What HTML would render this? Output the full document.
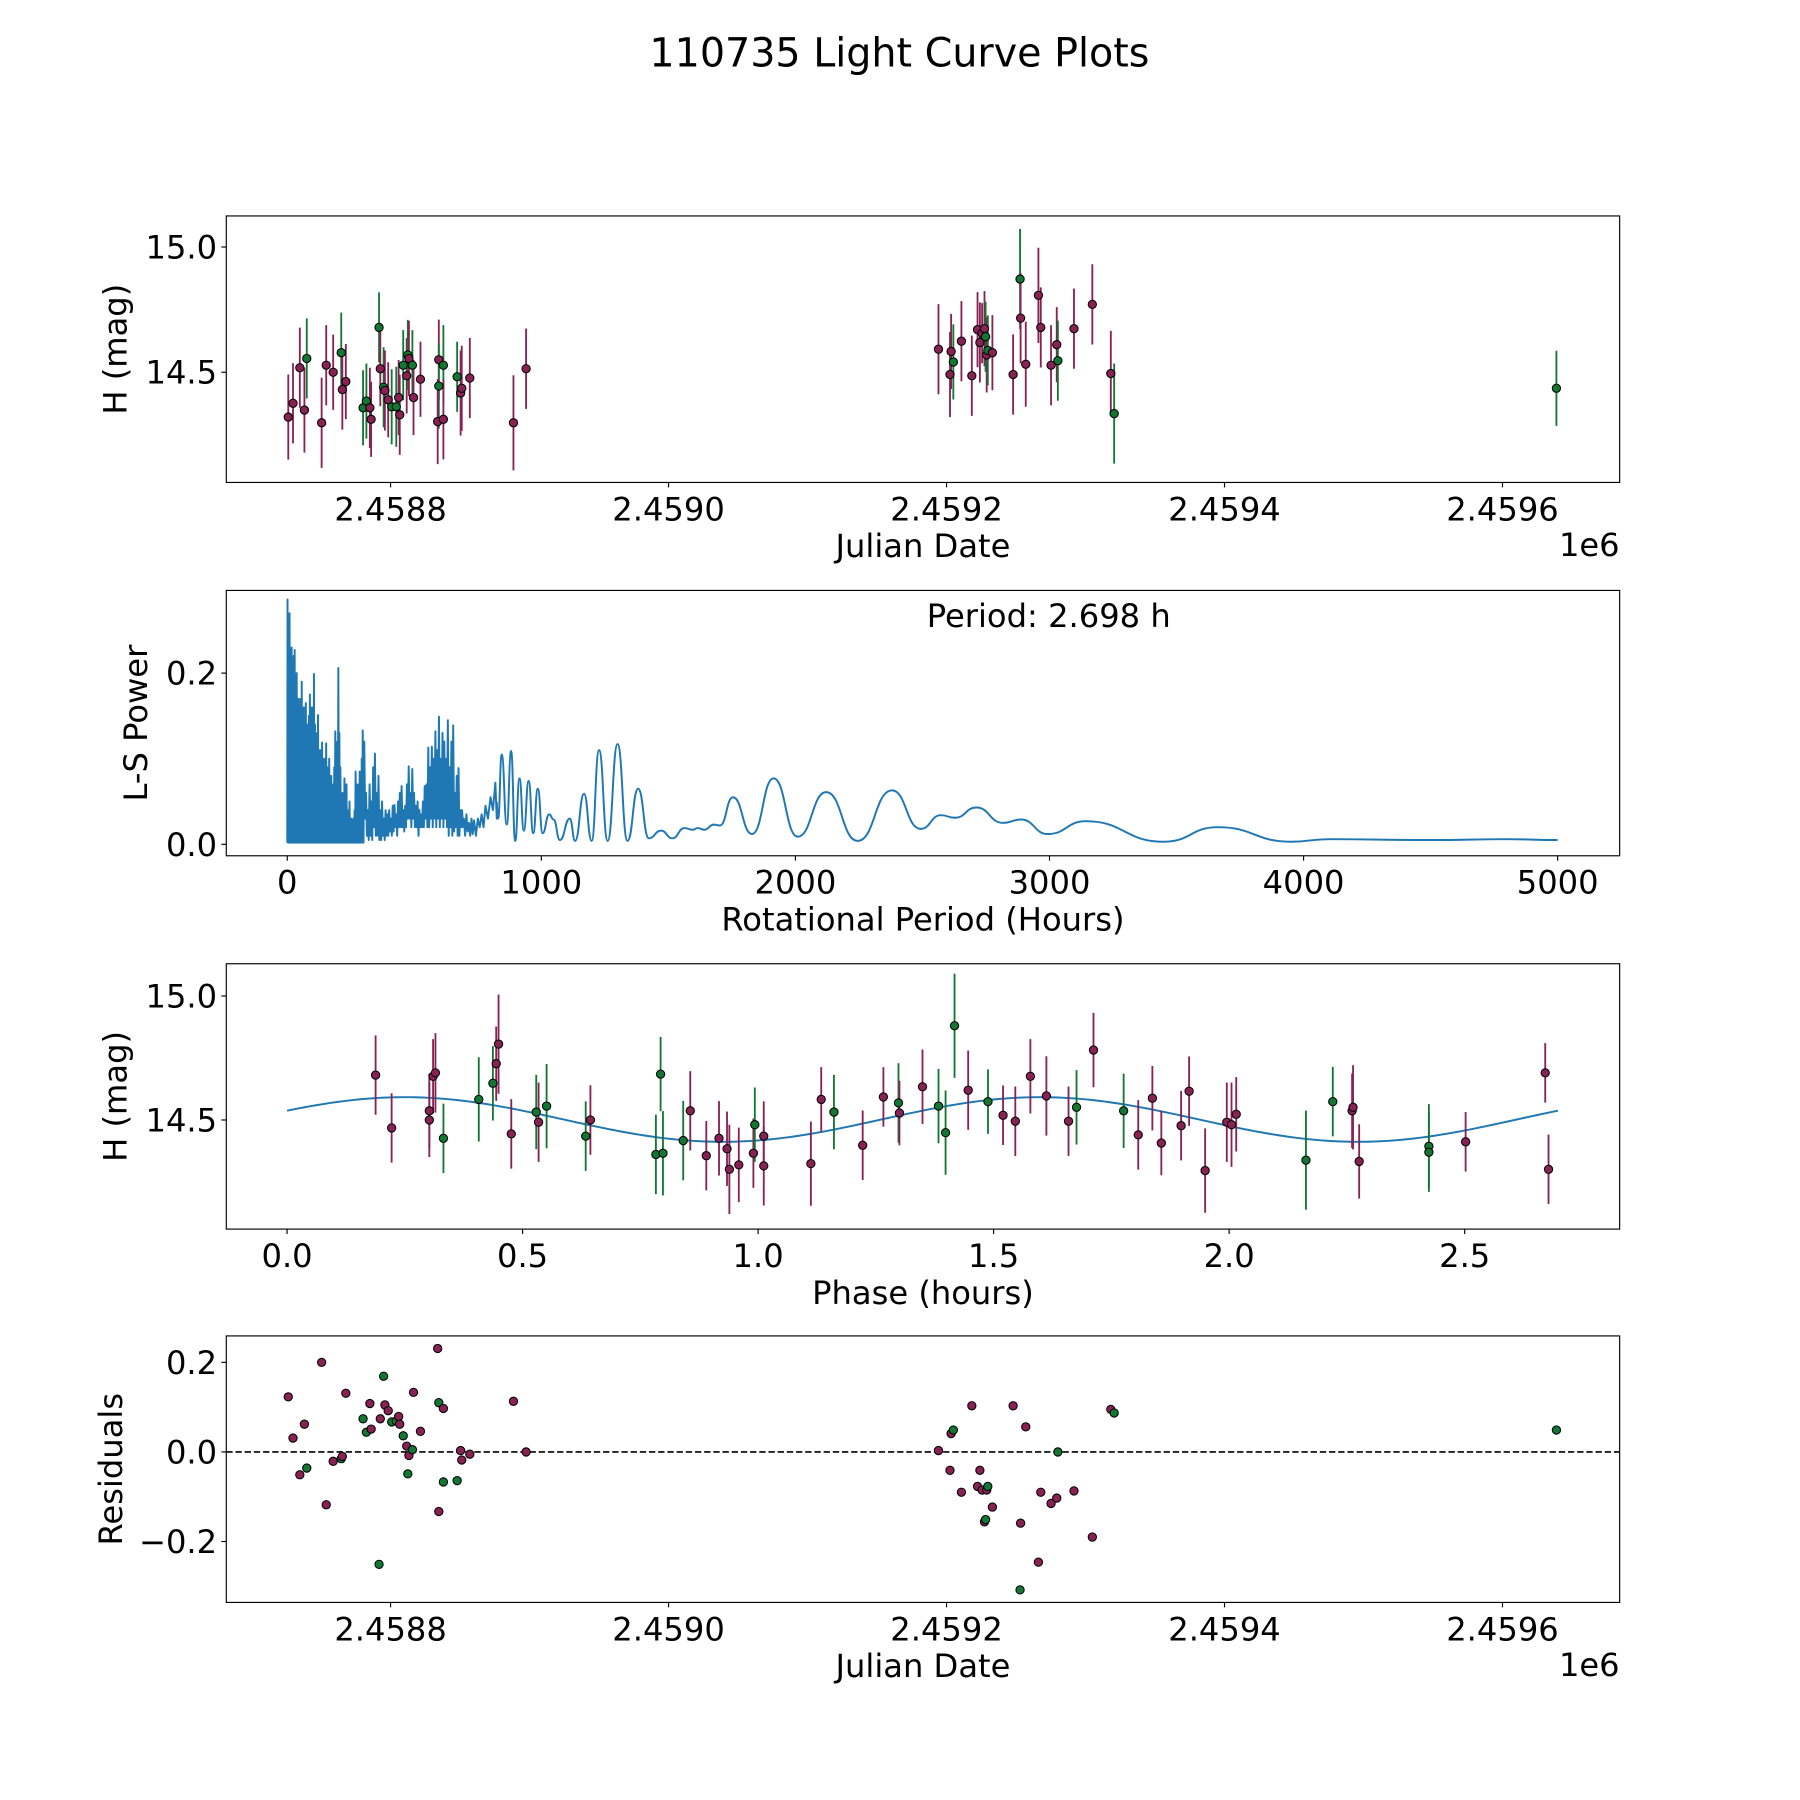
<!DOCTYPE html>
<html><head><meta charset="utf-8">
<style>
html,body{margin:0;padding:0;background:#fff;}
svg{display:block;font-family:"DejaVu Sans","Liberation Sans",sans-serif;}
</style></head>
<body>
<svg id="fig" width="1800" height="1800" viewBox="0 0 1567 1567" xmlns="http://www.w3.org/2000/svg">
<rect x="0" y="0" width="1567" height="1567" fill="#fff"/>
<text x="783" y="58" font-size="34.5" text-anchor="middle">110735 Light Curve Plots</text>
</svg>
<script>
// ---------- Data ----------
const lcJD = [2458726.4,2458729.8,2458734.7,2458738.0,2458739.7,2458750.4,2458753.7,2458758.7,2458764.5,2458765.3,2458767.8,2458780.2,2458782.6,2458785.1,2458786.0,2458791.7,2458792.6,2458795.0,2458795.9,2458798.3,2458800.8,2458804.1,2458805.8,2458806.6,2458809.1,2458811.6,2458812.4,2458813.2,2458815.7,2458816.5,2458821.5,2458834.7,2458834.7,2458833.9,2458838.0,2458838.0,2458847.9,2458850.4,2458851.2,2458857.0,2458888.4,2458897.5,
2459194.2,2459202.5,2459203.3,2459204.9,2459210.7,2459218.2,2459222.3,2459224.0,2459225.6,2459227.3,2459228.1,2459228.9,2459229.7,2459233.0,2459247.9,2459252.9,2459253.3,2459257.0,2459266.1,2459267.8,2459275.2,2459279.3,2459280.1,2459291.7,2459304.9,2459318.2,2459320.6,2459638.8];
const lcMag = [14.321,14.376,14.518,14.349,14.555,14.298,14.528,14.500,14.578,14.431,14.463,14.358,14.385,14.358,14.312,14.679,14.514,14.440,14.427,14.390,14.362,14.362,14.399,14.330,14.528,14.486,14.569,14.555,14.528,14.399,14.472,14.550,14.445,14.303,14.528,14.312,14.482,14.417,14.436,14.477,14.298,14.514,
14.592,14.491,14.583,14.541,14.624,14.486,14.670,14.619,14.656,14.674,14.642,14.569,14.587,14.578,14.491,14.872,14.716,14.532,14.807,14.679,14.528,14.610,14.546,14.674,14.771,14.495,14.335,14.436];
const lcErr = [0.17,0.16,0.16,0.17,0.16,0.18,0.16,0.15,0.16,0.16,0.15,0.15,0.15,0.16,0.15,0.14,0.15,0.16,0.16,0.15,0.15,0.16,0.15,0.16,0.14,0.15,0.14,0.15,0.14,0.15,0.15,0.16,0.17,0.17,0.16,0.16,0.14,0.17,0.17,0.16,0.19,0.16,
0.18,0.17,0.15,0.15,0.16,0.16,0.15,0.16,0.12,0.15,0.14,0.15,0.14,0.15,0.16,0.20,0.18,0.17,0.19,0.16,0.16,0.15,0.16,0.16,0.16,0.17,0.20,0.15];
const lcBand = ["p","p","p","p","g","p","p","p","g","p","p","g","g","p","p","g","p","g","p","p","g","g","p","p","g","p","g","p","g","p","p","p","g","p","g","p","g","p","p","p","p","p",
"p","p","p","g","p","p","p","p","p","p","g","p","g","p","p","g","p","p","p","p","p","p","g","p","p","p","g","g"];
const resid = [0.123,0.031,-0.051,0.062,-0.036,0.2,-0.118,-0.021,-0.015,-0.01,0.131,0.074,0.044,0.108,0.051,-0.251,0.074,0.169,0.105,0.092,0.067,0.069,0.079,0.062,0.036,0.013,-0.049,-0.008,0.005,0.133,0.046,-0.133,0.110,0.231,-0.067,0.097,-0.064,0.003,-0.018,-0.005,0.113,0.0,
0.003,-0.041,0.041,0.049,-0.09,0.103,-0.077,-0.041,-0.085,-0.156,-0.151,-0.085,-0.077,-0.123,0.103,-0.308,-0.159,0.056,-0.246,-0.09,-0.115,-0.103,0.0,-0.087,-0.19,0.095,0.087,0.049];

const phase = [0.188,0.222,0.302,0.302,0.310,0.315,0.332,0.407,0.437,0.444,0.449,0.476,0.529,0.534,0.551,0.634,0.644,0.783,0.798,0.793,0.841,0.856,0.890,0.917,0.934,0.939,0.959,0.990,0.993,1.012,1.012,1.112,1.134,1.161,1.222,1.266,1.298,1.300,1.349,1.383,1.398,1.417,1.446,1.488,1.520,1.546,1.578,1.612,1.659,1.676,1.712,1.776,1.807,1.837,1.856,1.898,1.915,1.949,1.995,2.005,2.015,2.163,2.220,2.261,2.263,2.276,2.424,2.424,2.502,2.671,2.678];
const phaseMag = [14.681,14.468,14.537,14.500,14.676,14.690,14.426,14.583,14.648,14.727,14.806,14.444,14.532,14.491,14.556,14.435,14.500,14.361,14.366,14.685,14.417,14.537,14.356,14.426,14.384,14.301,14.319,14.366,14.481,14.435,14.315,14.324,14.583,14.532,14.398,14.593,14.569,14.528,14.634,14.556,14.449,14.880,14.620,14.574,14.519,14.495,14.676,14.597,14.495,14.551,14.782,14.537,14.440,14.588,14.407,14.477,14.616,14.296,14.491,14.481,14.523,14.338,14.574,14.537,14.551,14.333,14.394,14.370,14.412,14.690,14.301];
const phaseErr = [0.16,0.14,0.15,0.15,0.15,0.16,0.14,0.17,0.15,0.15,0.20,0.14,0.15,0.16,0.17,0.14,0.14,0.16,0.17,0.15,0.16,0.16,0.14,0.15,0.15,0.18,0.15,0.14,0.15,0.14,0.16,0.17,0.13,0.15,0.14,0.12,0.16,0.13,0.15,0.15,0.17,0.21,0.16,0.13,0.12,0.14,0.15,0.16,0.14,0.15,0.15,0.15,0.14,0.13,0.13,0.14,0.14,0.17,0.16,0.17,0.15,0.20,0.14,0.15,0.17,0.15,0.17,0.16,0.12,0.12,0.14];
const phaseBand = ["p","p","p","p","p","p","g","g","g","p","p","p","g","p","g","g","p","g","g","g","g","p","p","p","p","p","p","p","g","p","p","p","p","g","p","p","g","p","p","g","g","g","p","g","p","p","p","p","p","g","p","g","p","p","p","p","p","p","p","p","p","g","g","p","p","p","g","g","p","p","p"];
// fitted model parameters (mean mag, amplitude, period in hours, phase offset)
const fitParams = [14.502, 0.09, 2.698, 0.407];

// periodogram: dense spike region (peak period, peak power)
const densePer = [1,5,9,13,17,21,25,29,33,37,41,45,49,53,57,61,65,69,73,77,81,85,89,93,97,101,105,109,113,117,121,125,129,133,137,141,145,149,153,157,161,165,169,173,177,181,185,189,193,197,201,205,209,213,217,221,225,229,233,237,241,245,249,253,257,261,265,269,273,277,281,285,289,293,297,
303,310,317,324,331,338,345,352,359,366,373,380,387,394,401,408,415,422,429,436,443,450,457,464,471,478,485,492,499,506,513,520,527,534,541,548,555,562,569,576,583,590,597,604,611,618,625,632,639,646,653,660,667,674,681,688,695,705,715,725,735,750,765,780,800,819];
const densePeak = [.286,.20,.27,.22,.23,.18,.22,.227,.17,.20,.15,.17,.14,.17,.19,.15,.16,.13,.165,.12,.14,.15,.175,.13,.16,.12,.199,.14,.12,.13,.151,.10,.11,.09,.119,.08,.10,.07,.118,.09,.07,.10,.06,.08,.05,.07,.09,.132,.10,.12,.206,.13,.09,.05,.06,.04,.077,.05,.07,.03,.04,.05,.02,.03,.02,.03,.04,.085,.06,.07,.04,.085,.05,.10,.133,
.12,.06,.04,.07,.05,.09,.106,.06,.08,.04,.05,.03,.04,.035,.04,.03,.045,.046,.035,.05,.06,.068,.04,.045,.07,.091,.06,.088,.06,.045,.05,.04,.035,.05,.068,.07,.113,.09,.114,.10,.132,.11,.149,.10,.13,.12,.10,.145,.09,.12,.139,.06,.08,.089,.04,.04,.03,.035,.025,.03,.028,.03,.035,.045,.055,.072];
const denseLow = [.002,.002,.002,.002,.002,.002,.002,.002,.002,.002,.002,.002,.002,.002,.002,.002,.002,.002,.002,.002,.002,.002,.002,.002,.002,.002,.002,.002,.002,.002,.002,.002,.002,.002,.002,.002,.002,.002,.002,.002,.002,.002,.002,.002,.002,.002,.002,.002,.002,.002,.002,.002,.002,.002,.002,.002,.002,.002,.002,.002,.002,.002,.002,.002,.002,.002,.002,.002,.002,.002,.002,.002,.002,.002,.002,
.03,.01,.005,.01,.005,.02,.01,.01,.005,.005,.01,.005,.01,.01,.015,.01,.015,.02,.01,.02,.02,.02,.015,.02,.03,.03,.02,.03,.02,.02,.01,.02,.02,.02,.03,.02,.02,.03,.02,.03,.02,.03,.02,.03,.02,.03,.02,.01,.02,.01,.015,.02,.01,.01,.02,.02,.01,.015,.01,.012,.01,.02,.02,.03,.04,.03];
// periodogram: smooth region extrema (period, power)
const smoothPer = [830,844,864,881,897,914,931,950,968,986,1005,1031,1048,1073,1112,1133,1168,1198,1227,1261,1300,1339,1381,1423,1471,1516,1563,1596,1615,1641,1679,1703,1754,1829,1914,2009,2121,2245,2380,2493,2572,2628,2712,2817,2888,2993,3142,3450,3662,3950,4100,4500,4800,5000];
const smoothPow = [0.03,0.105,0.023,0.109,0.004,0.077,0.016,0.074,0.013,0.065,0.013,0.035,0.029,0.005,0.030,0.004,0.059,0.004,0.110,0.004,0.117,0.004,0.065,0.007,0.016,0.007,0.019,0.017,0.019,0.017,0.023,0.022,0.055,0.012,0.077,0.009,0.061,0.004,0.063,0.018,0.034,0.031,0.043,0.025,0.029,0.012,0.027,0.003,0.020,0.003,0.006,0.005,0.006,0.005];

const jdTicks = [2458800,2459000,2459200,2459400,2459600];
const jdTickLabels = ["2.4588","2.4590","2.4592","2.4594","2.4596"];
const magTicks = [14.5,15.0];
const magTickLabels = ["14.5","15.0"];
const perTicks = [0,1000,2000,3000,4000,5000];
const perTickLabels = ["0","1000","2000","3000","4000","5000"];
const powTicks = [0.0,0.2];
const powTickLabels = ["0.0","0.2"];
const phTicks = [0,0.5,1,1.5,2,2.5];
const phTickLabels = ["0.0","0.5","1.0","1.5","2.0","2.5"];
const resTicks = [-0.2,0,0.2];
const resTickLabels = ["\u22120.2","0.0","0.2"];

// ---------- Drawing ----------
const NS="http://www.w3.org/2000/svg";
const fig=document.getElementById('fig');
const COL={p:"#882255",g:"#117733"};
const FS=28;
function el(tag,attrs,parent){const e=document.createElementNS(NS,tag);for(const k in attrs)e.setAttribute(k,attrs[k]);(parent||fig).appendChild(e);return e;}
const X0=197,X1=1410;
function makeAxes(name,y0,y1,xd,yd){
  const g=el('g',{});
  
  
  const sx=v=>X0+(v-xd[0])/(xd[1]-xd[0])*(X1-X0);
  const sy=v=>y1-(v-yd[0])/(yd[1]-yd[0])*(y1-y0);
  return {g,sx,sy,y0,y1};
}
function frame(ax,xt,xl,yt,yl,xlabel,ylabel,ylabX,offset){
  const g=ax.g;
  const r=el('rect',{x:X0,y:ax.y0,width:X1-X0,height:ax.y1-ax.y0,fill:'none',stroke:'#000','stroke-width':1});
  g.appendChild(r);
  
  
  xt.forEach((v,i)=>{const x=ax.sx(v);
    el('line',{x1:x,x2:x,y1:ax.y1,y2:ax.y1+4.3,stroke:'#000','stroke-width':1},g);
    const t=el('text',{x:x,y:ax.y1+33,'font-size':FS,'text-anchor':'middle'},g);t.textContent=xl[i];
    
    });
  yt.forEach((v,i)=>{const y=ax.sy(v);
    el('line',{x1:X0-4.3,x2:X0,y1:y,y2:y,stroke:'#000','stroke-width':1},g);
    const t=el('text',{x:X0-8,y:y+10,'font-size':FS,'text-anchor':'end'},g);t.textContent=yl[i];
    
    });
  const xlab=el('text',{x:(X0+X1)/2,y:ax.y1+65,'font-size':FS,'text-anchor':'middle'},g);xlab.textContent=xlabel;
  
  
  const cy=(ax.y0+ax.y1)/2;
  const ylab=el('text',{x:ylabX,y:cy,'font-size':FS,'text-anchor':'middle',transform:`rotate(-90 ${ylabX} ${cy})`},g);ylab.textContent=ylabel;
  
  
  if(offset){const o=el('text',{x:X1,y:ax.y1+64,'font-size':FS,'text-anchor':'end'},g);o.textContent=offset;
    
    }
}
function points(ax,xs,ys,bands,errs,name){
  if(errs){xs.forEach((v,i)=>{const x=ax.sx(v);
    const l=el('line',{x1:x,x2:x,y1:ax.sy(ys[i]-errs[i]),y2:ax.sy(ys[i]+errs[i]),stroke:COL[bands[i]],'stroke-width':1.6},ax.g);
    
    });}
  xs.forEach((v,i)=>{const c=el('circle',{cx:ax.sx(v),cy:ax.sy(ys[i]),r:3.6,fill:COL[bands[i]],stroke:'#000','stroke-width':0.9},ax.g);
    
    });
}

// Panel 1: light curve
const a1=makeAxes('light-curve-panel',188,420,[2458681.8,2459684.3],[14.060,15.124]);
frame(a1,jdTicks,jdTickLabels,magTicks,magTickLabels,'Julian Date','H (mag)',110,'1e6');
points(a1,lcJD,lcMag,lcBand,lcErr,'light-curve-point');

// Panel 2: periodogram
const a2=makeAxes('periodogram-panel',514,745,[-240,5244],[-0.0134,0.2966]);
frame(a2,perTicks,perTickLabels,powTicks,powTickLabels,'Rotational Period (Hours)','L-S Power',128,null);
(function(){
  let d='';
  densePer.forEach((p,i)=>{
    const x=a2.sx(p),y=a2.sy(densePeak[i]);
    d+=(i===0?`M${a2.sx(0)},${a2.sy(denseLow[0])} L`:' L')+x+','+y;
    const next=i+1<densePer.length?densePer[i+1]:smoothPer[0];
    d+=' L'+a2.sx((p+next)/2)+','+a2.sy(denseLow[i]);
  });
  let px=a2.sx(densePer[densePer.length-1]),py=a2.sy(densePeak[densePeak.length-1]);
  smoothPer.forEach((p,i)=>{
    const x=a2.sx(p),y=a2.sy(smoothPow[i]);const m=(px+x)/2;
    d+=` C${m},${py} ${m},${y} ${x},${y}`;px=x;py=y;
  });
  const path=el('path',{d:d,fill:'none',stroke:'#1f77b4','stroke-width':1.7,'stroke-linejoin':'round'},a2.g);
  
  
  const t=el('text',{x:913,y:546,'font-size':FS,'text-anchor':'middle'},a2.g);t.textContent='Period: 2.698 h';
  
  
})();

// Panel 3: phase-folded
const a3=makeAxes('phase-panel',839,1070,[-0.129,2.829],[14.060,15.130]);
frame(a3,phTicks,phTickLabels,magTicks,magTickLabels,'Phase (hours)','H (mag)',110,null);
(function(){
  let d='';
  for(let k=0;k<=300;k++){const p=fitParams[2]*k/300;
    const m=fitParams[0]+fitParams[1]*Math.sin(2*Math.PI*2*p/fitParams[2]+fitParams[3]);
    d+=(k?' L':'M')+a3.sx(p)+','+a3.sy(m);}
  const path=el('path',{d:d,fill:'none',stroke:'#1f77b4','stroke-width':1.7},a3.g);
  
  
})();
points(a3,phase,phaseMag,phaseBand,phaseErr,'phase-point');

// Panel 4: residuals
const a4=makeAxes('residuals-panel',1163,1395,[2458681.8,2459684.3],[-0.336,0.259]);
frame(a4,jdTicks,jdTickLabels,resTicks,resTickLabels,'Julian Date','Residuals',106,'1e6');
(function(){
  const l=el('line',{x1:X0,x2:X1,y1:a4.sy(0),y2:a4.sy(0),stroke:'#000','stroke-width':1.4,'stroke-dasharray':'5.5,2.5'},a4.g);
  
  
})();
points(a4,lcJD,resid,lcBand,null,'residual-point');
</script>
</body></html>
